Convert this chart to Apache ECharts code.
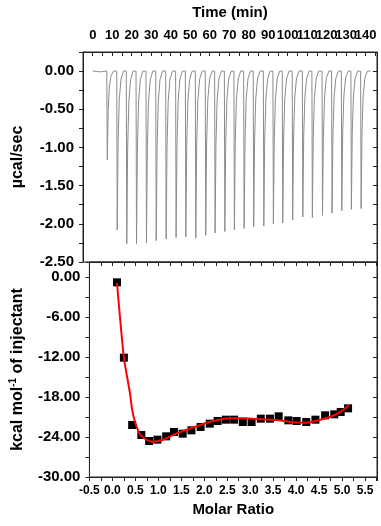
<!DOCTYPE html>
<html>
<head>
<meta charset="utf-8">
<script src="https://cdn.jsdelivr.net/npm/echarts@6/dist/echarts.min.js"></script>
<style>
  html, body { margin: 0; padding: 0; background: #fff; }
  #chart { width: 381px; height: 526px; }
</style>
</head>
<body>
<div id="chart"></div>
<script>
// raw thermogram: injection times (min) and peak minima (ucal/sec)
const injTime = [7.2, 12.3, 17.2, 22.2, 27.3, 32.3, 37.4, 42.5, 47.5, 52.6, 57.7, 62.5, 67.5, 72.4,
  77.4, 82.3, 87.5, 92.4, 97.2, 102.3, 107.5, 112.4, 117.6, 122.5, 127.5, 132.4, 137.4];
const injPeak = [-1.16, -2.08, -2.26, -2.26, -2.25, -2.22, -2.20, -2.18, -2.17, -2.19, -2.15, -2.12, -2.10, -2.08,
  -2.06, -2.04, -2.03, -2.00, -1.99, -1.95, -1.91, -1.92, -1.89, -1.86, -1.83, -1.81, -1.80];
// baseline before first injection and at the end
const startTrace = [[0, 0], [2, -0.005], [3, -0.03], [4, -0.01], [5, 0]];
const endTrace = [[142.5, 0]];
// shape of one spike: minutes after injection, fraction of peak depth
const spikeOffset = [0, 0.25, 0.7, 1.3, 2.2, 3.5];
const spikeFrac = [0, 1, 0.45, 0.18, 0.05, 0];

// integrated heats
const molarRatio = [0.10, 0.25, 0.43, 0.63, 0.80, 0.98, 1.17, 1.34, 1.53, 1.72, 1.92, 2.12, 2.29, 2.47,
  2.65, 2.84, 3.03, 3.23, 3.43, 3.62, 3.83, 4.01, 4.22, 4.42, 4.63, 4.83, 4.97, 5.13];
const heat = [-0.8, -12.1, -22.2, -23.7, -24.6, -24.4, -23.9, -23.25, -23.5, -23.0, -22.5, -22.0, -21.6, -21.4,
  -21.4, -21.75, -21.75, -21.25, -21.25, -20.9, -21.5, -21.6, -21.75, -21.4, -20.75, -20.6, -20.25, -19.7];

// fitted curve
const fitX = [0.10, 0.25, 0.38, 0.43, 0.50, 0.61, 0.75, 0.86, 1.00, 1.14, 1.32, 1.56, 1.85, 2.13,
  2.56, 2.88, 3.23, 3.59, 3.94, 4.22, 4.51, 4.79, 4.97, 5.15];
const fitY = [-0.9, -12.1, -17.3, -19.9, -21.9, -23.7, -24.45, -24.7, -24.6, -24.3, -23.7, -23.05, -22.35, -21.7,
  -21.2, -21.2, -21.35, -21.45, -21.8, -21.85, -21.45, -20.85, -20.2, -19.2];

const thermo = startTrace.slice();
injTime.forEach(function (t, i) {
  spikeOffset.forEach(function (o, j) {
    thermo.push([t + o, injPeak[i] * spikeFrac[j]]);
  });
});
endTrace.forEach(function (p) { thermo.push(p); });

const fitData = fitX.map(function (x, i) { return [x, fitY[i]]; });
const pointData = molarRatio.map(function (x, i) { return [x, heat[i]]; });

const font = 'Liberation Sans, Arial, sans-serif';
const xLabelStyle = { color: '#000', fontFamily: font, fontWeight: 'bold', fontSize: 13 };
const ratioLabelStyle = { color: '#000', fontFamily: font, fontWeight: 'bold', fontSize: 12 };
const yLabelStyle = { color: '#000', fontFamily: font, fontWeight: 'bold', fontSize: 15 };
const nameStyle = { color: '#000', fontFamily: font, fontWeight: 'bold', fontSize: 15 };
const yNameStyle = { color: '#000', fontFamily: font, fontWeight: 'bold', fontSize: 16 };
const frameLine = { show: true, onZero: false, lineStyle: { color: '#222', width: 1 } };
const tickStyle = { color: '#222', width: 1 };

function every(step, digits) {
  return function (v) {
    const k = v / step;
    return Math.abs(k - Math.round(k)) < 1e-6 ? v.toFixed(digits) : '';
  };
}

const chart = echarts.init(document.getElementById('chart'));
chart.setOption({
  animation: false,
  backgroundColor: '#fff',
  grid: [
    { left: 83, top: 52, width: 294, height: 210, show: true, borderColor: '#222', borderWidth: 1 },
    { left: 83, top: 262, width: 294, height: 215, show: true, borderColor: '#222', borderWidth: 1 }
  ],
  xAxis: [
    {
      gridIndex: 0, type: 'value', position: 'top', min: -5, max: 145.8, interval: 5,
      name: 'Time (min)', nameLocation: 'middle', nameGap: 32, nameTextStyle: nameStyle,
      axisLine: frameLine, axisTick: { inside: true, length: 4, lineStyle: tickStyle },
      axisLabel: Object.assign({ margin: 10, formatter: every(10, 0) }, xLabelStyle),
      splitLine: { show: false }
    },
    {
      gridIndex: 1, type: 'value', position: 'bottom', min: -0.5, max: 5.76, interval: 0.25,
      name: 'Molar Ratio', nameLocation: 'middle', nameGap: 25, nameTextStyle: nameStyle,
      axisLine: frameLine, axisTick: { length: 4, lineStyle: tickStyle },
      axisLabel: Object.assign({ margin: 8, formatter: every(0.5, 1) }, ratioLabelStyle),
      splitLine: { show: false }
    },
    {
      gridIndex: 1, type: 'value', position: 'top', min: -0.5, max: 5.76, interval: 0.25,
      axisLine: frameLine, axisTick: { inside: true, length: 4, lineStyle: tickStyle },
      axisLabel: { show: false }, splitLine: { show: false }
    }
  ],
  yAxis: [
    {
      gridIndex: 0, type: 'value', position: 'left', min: -2.5, max: 0.25, interval: 0.25,
      name: 'µcal/sec', nameLocation: 'middle', nameGap: 57, nameTextStyle: yNameStyle,
      axisLine: frameLine, axisTick: { length: 4, lineStyle: tickStyle },
      axisLabel: Object.assign({ margin: 9, formatter: every(0.5, 2) }, yLabelStyle),
      splitLine: { show: false }
    },
    {
      gridIndex: 0, type: 'value', position: 'right', min: -2.5, max: 0.25, interval: 0.25,
      axisLine: frameLine, axisTick: { inside: true, length: 4, lineStyle: tickStyle },
      axisLabel: { show: false }, splitLine: { show: false }
    },
    {
      gridIndex: 1, type: 'value', position: 'left', min: -30, max: 2.25, interval: 3,
      name: 'kcal mol{sup|-1} of injectant', nameLocation: 'middle', nameGap: 57,
      nameTextStyle: Object.assign({
        lineHeight: 19,
        rich: { sup: { fontFamily: font, fontWeight: 'bold', fontSize: 10, color: '#000', verticalAlign: 'top', lineHeight: 11 } }
      }, yNameStyle),
      axisLine: frameLine, axisTick: { length: 4, lineStyle: tickStyle },
      axisLabel: Object.assign({ margin: 9, formatter: every(6, 2) }, yLabelStyle),
      splitLine: { show: false }
    },
    {
      gridIndex: 1, type: 'value', position: 'right', min: -30, max: 2.25, interval: 3,
      axisLine: frameLine, axisTick: { inside: true, length: 4, lineStyle: tickStyle },
      axisLabel: { show: false }, splitLine: { show: false }
    }
  ],
  series: [
    {
      name: 'thermogram', type: 'line', xAxisIndex: 0, yAxisIndex: 0,
      data: thermo, showSymbol: false, symbol: 'none',
      lineStyle: { color: '#8c8c8c', width: 1 }
    },
    {
      name: 'heats', type: 'scatter', xAxisIndex: 1, yAxisIndex: 2,
      data: pointData, symbol: 'rect', symbolSize: 8,
      itemStyle: { color: '#000', opacity: 1 }
    },
    {
      name: 'fit', type: 'line', xAxisIndex: 1, yAxisIndex: 2, z: 3,
      data: fitData, showSymbol: false, symbol: 'none', smooth: 0.2,
      lineStyle: { color: '#f00', width: 2 }
    }
  ]
});
</script>
</body>
</html>
